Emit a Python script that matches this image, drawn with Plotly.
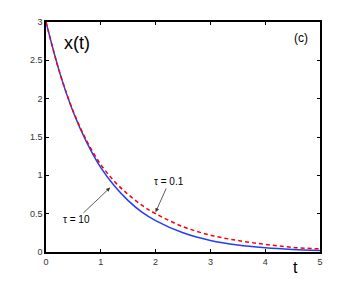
import plotly.graph_objects as go

t_vals = [0, 0.25, 0.5, 0.75, 1.0, 1.25, 1.5, 1.75, 2.0, 2.5, 3.0, 3.5, 4.0, 4.5, 5.0]
x_tau10 = [3.0, 2.34, 1.82, 1.42, 1.10, 0.86, 0.67, 0.52, 0.41, 0.25, 0.15, 0.09, 0.055, 0.033, 0.02]
x_tau01 = [3.0, 2.34, 1.83, 1.44, 1.14, 0.92, 0.75, 0.61, 0.50, 0.33, 0.22, 0.15, 0.10, 0.06, 0.04]
x_ticks = [0, 1, 2, 3, 4, 5]
y_ticks = [0, 0.5, 1, 1.5, 2, 2.5, 3]
y_tick_labels = ["0", "0.5", "1", "1.5", "2", "2.5", "3"]

fig = go.Figure()
fig.add_trace(go.Scatter(x=t_vals, y=x_tau10, mode="lines", line=dict(color="#1f3fff", width=1.5, shape="spline"), name="τ = 10"))
fig.add_trace(go.Scatter(x=t_vals, y=x_tau01, mode="lines", line=dict(color="#ff0000", width=1.5, dash="4px,3px", shape="spline"), name="τ = 0.1"))

font = "Liberation Sans, Arial, sans-serif"
axis_common = dict(showline=True, linecolor="black", linewidth=1.5, mirror="ticks", ticks="inside",
                   ticklen=3, tickcolor="black", showgrid=False, zeroline=False, automargin=False,
                   tickfont=dict(family=font, size=9, color="#333333"))
fig.update_layout(
    width=354, height=285, showlegend=False,
    margin=dict(l=46, r=34, t=22, b=33, autoexpand=False),
    paper_bgcolor="white", plot_bgcolor="white",
    xaxis=dict(range=[0, 5], tickvals=x_ticks, **axis_common),
    yaxis=dict(range=[0, 3], tickvals=y_ticks, ticktext=y_tick_labels, **axis_common),
    annotations=[
        dict(x=0.57, y=2.73, xref="x", yref="y", text="x(t)", showarrow=False, font=dict(family=font, size=18, color="black")),
        dict(x=4.66, y=2.79, xref="x", yref="y", text="(c)", showarrow=False, font=dict(family=font, size=12, color="black")),
        dict(x=0.927, y=-0.115, xref="paper", yref="paper", text="t", showarrow=False, font=dict(family=font, size=16, color="black")),
        dict(x=2.0, y=0.52, ax=2.25, ay=0.92, xref="x", yref="y", axref="x", ayref="y", text="τ = 0.1",
             showarrow=True, arrowhead=2, arrowsize=1, arrowwidth=0.8, arrowcolor="#333333",
             font=dict(family=font, size=10, color="black"), standoff=0),
        dict(x=1.17, y=0.84, ax=0.55, ay=0.42, xref="x", yref="y", axref="x", ayref="y", text="τ = 10",
             showarrow=True, arrowhead=2, arrowsize=1, arrowwidth=0.8, arrowcolor="#333333",
             font=dict(family=font, size=10, color="black"), standoff=0),
    ],
)
fig.write_html("out.html", config={"displayModeBar": False},
               post_script="document.body.style.margin='0';document.body.style.overflow='hidden';")
